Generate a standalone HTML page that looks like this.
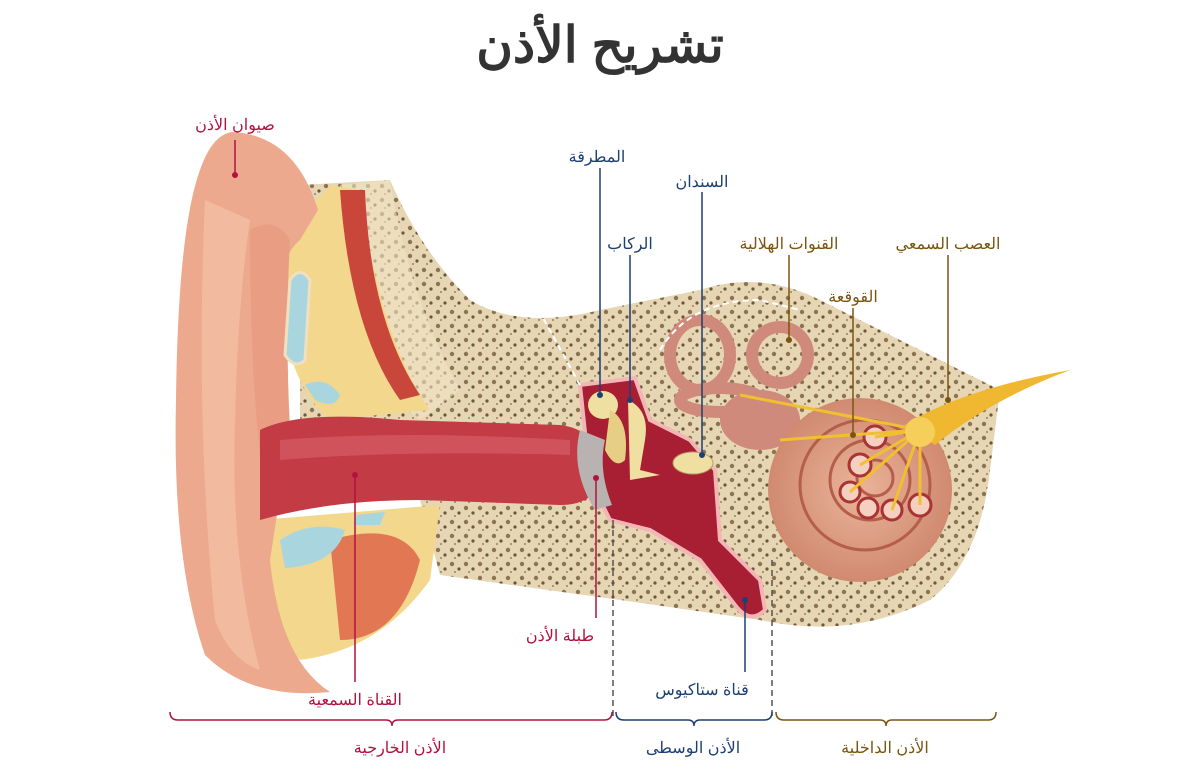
<!DOCTYPE html>
<html><head><meta charset="utf-8"><style>
html,body{margin:0;padding:0;background:#fff;}
svg{display:block;}
text{font-family:"Liberation Sans","Noto Sans CJK SC",sans-serif;}
</style></head><body>
<svg width="1200" height="780" viewBox="0 0 1200 780" xmlns="http://www.w3.org/2000/svg">
<defs>
<pattern id="dots" width="14" height="14" patternUnits="userSpaceOnUse">
<rect width="14" height="14" fill="#e6d6b4"/>
<circle cx="4" cy="4" r="2.2" fill="#8c7452"/>
<circle cx="11" cy="9" r="1.6" fill="#6e5638"/>
<circle cx="7" cy="12" r="1" fill="#9a8262"/>
</pattern>
<radialGradient id="coch" cx="0.5" cy="0.5" r="0.5">
<stop offset="0" stop-color="#eab49a"/><stop offset="1" stop-color="#d08a70"/>
</radialGradient>
</defs>
<text x="600" y="62" text-anchor="middle" font-size="50" font-weight="bold" fill="#333">تشريح الأذن</text>

<!-- bone region -->
<path d="M300 185 L390 180 Q420 250 470 300 Q520 330 600 310 L700 290 Q760 270 820 300 L1000 390 L990 470 Q980 560 930 600 Q850 640 760 620 L620 600 L440 575 L420 500 L300 500 Z" fill="url(#dots)"/>
<path d="M340 185 L390 180 Q410 300 460 390 L420 420 Q360 380 340 185 Z" fill="#f2e2c4" opacity="0.6"/>
<!-- fat/yellow tissue -->
<path d="M270 240 Q320 200 330 185 L360 190 Q380 340 430 410 L330 420 Q280 380 270 240 Z" fill="#f3d78c"/>
<path d="M260 520 L440 505 L430 580 Q380 650 300 660 Q260 620 260 520 Z" fill="#f3d78c"/>
<path d="M330 540 Q400 520 420 560 Q400 640 340 640 Z" fill="#d9503a" opacity="0.7"/>
<path d="M340 190 Q350 330 400 400 L420 395 Q370 320 365 190 Z" fill="#c9473a"/>
<!-- pinna -->
<path d="M232 132 Q295 135 318 210 L300 240 Q275 260 280 330 L290 430 L270 560 Q280 660 330 692 Q250 700 205 655 Q172 560 176 400 Q178 230 200 170 Q212 135 232 132 Z" fill="#eda98d"/>
<path d="M205 200 Q195 420 215 620 Q230 660 260 670 Q230 560 235 420 Q238 300 250 220 Z" fill="#f2bba0"/>
<path d="M250 230 Q275 215 290 240 Q285 330 290 430 L270 520 Q250 420 250 230 Z" fill="#e99e83"/>
<!-- cartilage blue -->
<path d="M290 280 Q300 265 310 280 L305 360 Q295 370 285 355 Z" fill="#a9d6de" stroke="#f0e0c0" stroke-width="3"/>
<path d="M305 385 Q325 375 340 395 Q335 410 315 400 Z" fill="#a9d6de"/>
<path d="M280 540 Q310 520 345 530 Q335 565 285 568 Z" fill="#a9d6de"/>
<path d="M355 515 L385 512 L380 525 L355 525 Z" fill="#a9d6de"/>
<!-- canal -->
<path d="M260 430 Q300 410 400 420 L560 425 Q600 430 600 470 Q600 505 560 505 L420 500 Q330 500 260 520 Z" fill="#c23b45"/>
<path d="M280 440 Q400 430 570 440 L570 455 Q400 450 280 460 Z" fill="#d9646b" opacity="0.6"/>
<!-- middle ear -->
<path d="M580 385 L635 378 L650 420 L690 440 L715 470 L720 540 L760 580 L765 610 Q750 625 735 605 L700 560 L650 530 L610 520 L590 480 Z" fill="#a81f33" stroke="#f2b6b6" stroke-width="4"/>
<path d="M580 430 Q570 470 595 510 L612 505 Q598 470 605 440 Z" fill="#b8b2b0"/>
<!-- ossicles -->
<ellipse cx="603" cy="405" rx="15" ry="14" fill="#efdfa0"/>
<path d="M610 410 Q630 420 625 460 Q615 470 605 450 Z" fill="#e6cf85"/>
<path d="M628 400 Q650 410 645 440 L640 470 L660 475 L630 480 Z" fill="#efdfa0"/>
<ellipse cx="693" cy="463" rx="20" ry="11" fill="#efdfa0" stroke="#b9a06a"/>
<!-- semicircular canals -->
<g fill="none" stroke="#d08a7b" stroke-width="12">
<ellipse cx="700" cy="355" rx="30" ry="35"/>
<ellipse cx="780" cy="355" rx="28" ry="28"/>
<ellipse cx="720" cy="400" rx="40" ry="12"/>
</g>
<ellipse cx="760" cy="420" rx="40" ry="30" fill="#d08a7b"/>
<!-- cochlea -->
<circle cx="860" cy="490" r="92" fill="url(#coch)"/>
<circle cx="865" cy="485" r="65" fill="none" stroke="#b45e4b" stroke-width="3"/>
<circle cx="870" cy="480" r="40" fill="none" stroke="#b45e4b" stroke-width="3"/>
<circle cx="875" cy="478" r="18" fill="none" stroke="#b45e4b" stroke-width="3"/>
<g fill="#f5d0c0" stroke="#a33" stroke-width="3">
<circle cx="875" cy="437" r="11"/><circle cx="860" cy="465" r="11"/><circle cx="850" cy="492" r="10"/>
<circle cx="868" cy="508" r="10"/><circle cx="892" cy="510" r="10"/><circle cx="920" cy="505" r="11"/>
</g>
<!-- nerve -->
<g stroke="#f0c030" stroke-width="3" fill="none">
<path d="M920 430 L740 395"/><path d="M920 430 L780 440"/><path d="M920 430 L875 437"/>
<path d="M920 430 L860 465"/><path d="M920 430 L850 492"/><path d="M920 430 L892 510"/><path d="M920 430 L920 505"/>
</g>
<path d="M905 425 Q960 390 1070 370 Q990 400 935 445 Z" fill="#f0b830"/>
<circle cx="920" cy="432" r="15" fill="#f5cf5a"/>
<!-- dashed outlines -->
<path d="M660 350 Q690 300 760 300 L800 310" fill="none" stroke="#fff" stroke-width="2" stroke-dasharray="6 4"/>
<path d="M500 240 L580 385" fill="none" stroke="#fff" stroke-width="2" stroke-dasharray="6 4"/>
<!-- vertical dashed -->
<g stroke="#555" stroke-width="1.5" stroke-dasharray="6 4">
<line x1="613" y1="520" x2="613" y2="718"/>
<line x1="772" y1="560" x2="772" y2="718"/>
</g>
<!-- leader lines -->
<g stroke-width="1.5" fill="none">
<path d="M235 140 V175" stroke="#b3123f"/>
<path d="M355 475 V682" stroke="#b3123f"/>
<path d="M596 478 V618" stroke="#b3123f"/>
<path d="M600 168 V395" stroke="#1d3f73"/>
<path d="M702 192 V455" stroke="#1d3f73"/>
<path d="M630 255 V400" stroke="#1d3f73"/>
<path d="M745 600 V672" stroke="#1d3f73"/>
<path d="M789 255 V340" stroke="#7a5510"/>
<path d="M853 308 V435" stroke="#7a5510"/>
<path d="M948 255 V400" stroke="#7a5510"/>
</g>
<g>
<circle cx="235" cy="175" r="3" fill="#b3123f"/><circle cx="355" cy="475" r="3" fill="#b3123f"/><circle cx="596" cy="478" r="3" fill="#b3123f"/>
<circle cx="600" cy="395" r="3" fill="#1d3f73"/><circle cx="702" cy="455" r="3" fill="#1d3f73"/><circle cx="630" cy="400" r="3" fill="#1d3f73"/><circle cx="745" cy="600" r="3" fill="#1d3f73"/>
<circle cx="789" cy="340" r="3" fill="#7a5510"/><circle cx="853" cy="435" r="3" fill="#7a5510"/><circle cx="948" cy="400" r="3" fill="#7a5510"/>
</g>
<g font-size="16" text-anchor="middle">
<text x="235" y="130" fill="#b3123f">صيوان الأذن</text>
<text x="597" y="162" fill="#1d3f73">المطرقة</text>
<text x="702" y="187" fill="#1d3f73">السندان</text>
<text x="630" y="249" fill="#1d3f73">الركاب</text>
<text x="789" y="249" fill="#7a5510">القنوات الهلالية</text>
<text x="853" y="302" fill="#7a5510">القوقعة</text>
<text x="948" y="249" fill="#7a5510">العصب السمعي</text>
<text x="355" y="705" fill="#b3123f">القناة السمعية</text>
<text x="560" y="641" fill="#b3123f">طبلة الأذن</text>
<text x="702" y="695" fill="#1d3f73">قناة ستاكيوس</text>
<text x="400" y="753" fill="#b3123f">الأذن الخارجية</text>
<text x="693" y="753" fill="#1d3f73">الأذن الوسطى</text>
<text x="885" y="753" fill="#7a5510">الأذن الداخلية</text>
</g>
<!-- brackets -->
<path d="M170 712 Q170 720 178 720 L386 720 Q392 720 392 726 Q392 720 398 720 L604 720 Q612 720 612 712" fill="none" stroke="#b3123f" stroke-width="1.5"/>
<path d="M616 712 Q616 720 624 720 L688 720 Q694 720 694 726 Q694 720 700 720 L764 720 Q772 720 772 712" fill="none" stroke="#1d3f73" stroke-width="1.5"/>
<path d="M776 712 Q776 720 784 720 L880 720 Q886 720 886 726 Q886 720 892 720 L988 720 Q996 720 996 712" fill="none" stroke="#7a5510" stroke-width="1.5"/>
</svg>
</body></html>
